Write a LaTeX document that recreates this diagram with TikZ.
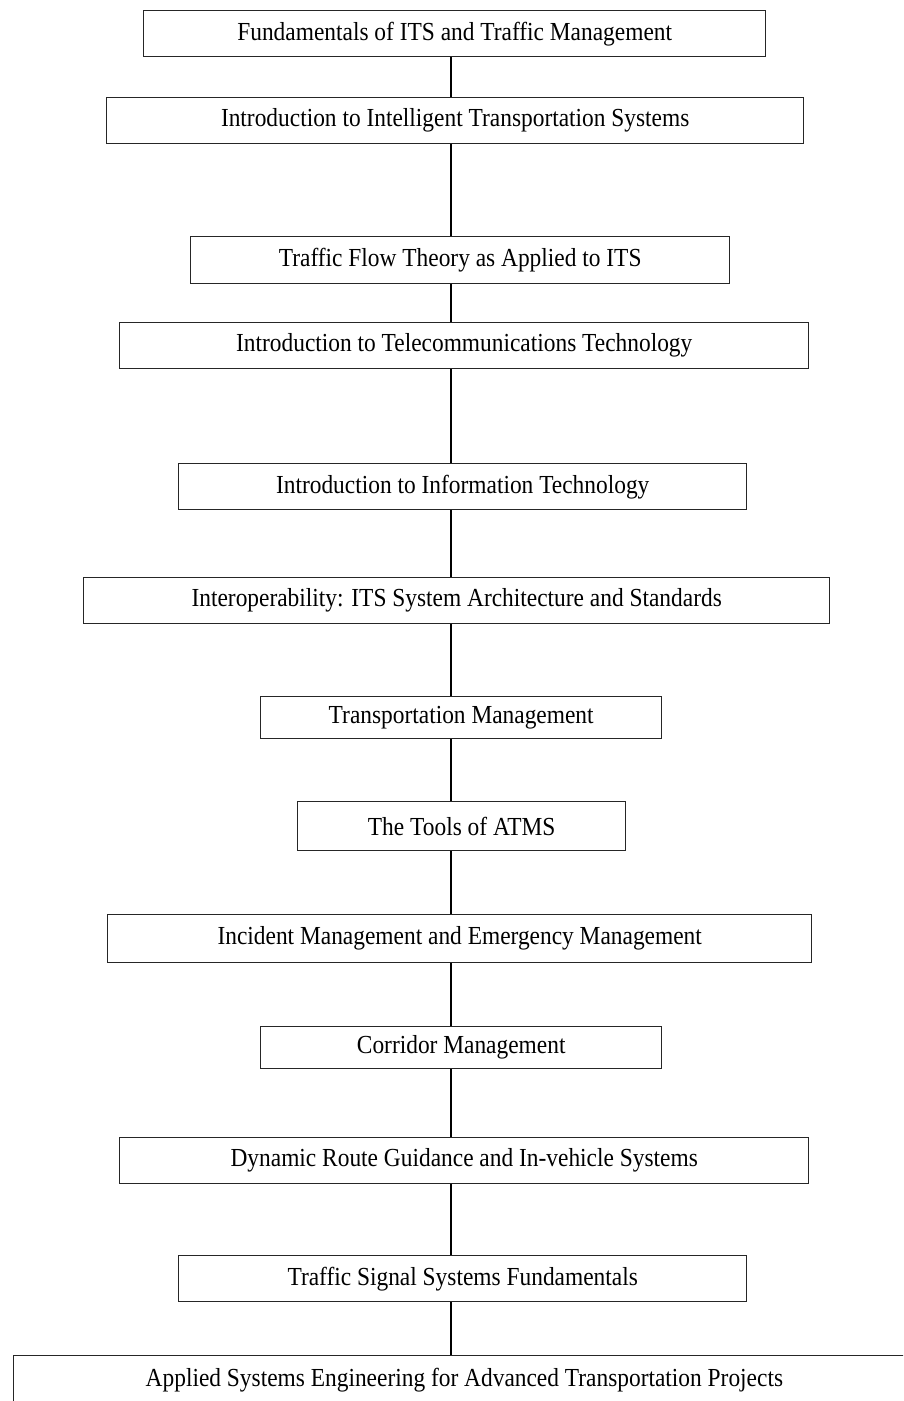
\documentclass[tikz,border=0pt]{standalone}
\usepackage{fontspec}
\setmainfont{Liberation Serif}[FakeStretch=0.9]
\begin{document}
\begin{tikzpicture}[x=1pt,y=-1pt,
  course/.style={draw=black!85,line width=1.4pt,fill=white,inner sep=0pt,
    font=\fontsize{26}{30}\selectfont,anchor=north west},
  link/.style={draw=black,line width=1.2pt}]
\useasboundingbox (0,0) rectangle (903,1401);
\clip (0,0) rectangle (903,1401);
% course boxes: top-left corner, width, height
\newcommand{\coursebox}[6]{%
  \node[course,minimum width=#4pt,minimum height=#5pt] (#1) at (#2,#3) {#6};}
\coursebox{c1}{143}{10}{622}{46}{Fundamentals of ITS and Traffic Management}
\coursebox{c2}{106}{97}{697}{46}{Introduction to Intelligent Transportation Systems}
\coursebox{c3}{190}{236}{539}{47}{Traffic Flow Theory as Applied to ITS}
\coursebox{c4}{119}{322}{689}{46}{Introduction to Telecommunications Technology}
\coursebox{c5}{178}{463}{568}{46}{Introduction to Information Technology}
\coursebox{c6}{83}{577}{746}{46}{Interoperability: ITS System Architecture and Standards}
\coursebox{c7}{260}{696}{401}{42}{Transportation Management}
\coursebox{c8}{297}{801}{328}{49}{The Tools of ATMS}
\coursebox{c9}{107}{914}{704}{48}{Incident Management and Emergency Management}
\coursebox{c10}{260}{1026}{401}{42}{Corridor Management}
\coursebox{c11}{119}{1137}{689}{46}{Dynamic Route Guidance and In-vehicle Systems}
\coursebox{c12}{178}{1255}{568}{46}{Traffic Signal Systems Fundamentals}
\coursebox{c13}{12.7}{1355}{902}{48}{Applied Systems Engineering for Advanced Transportation Projects}
% vertical connectors
\foreach \a/\b in {c1/c2,c2/c3,c3/c4,c4/c5,c5/c6,c6/c7,c7/c8,c8/c9,c9/c10,c10/c11,c11/c12,c12/c13}
  \draw[link] (\a.south -| 451,0) -- (\b.north -| 451,0);
\end{tikzpicture}
\end{document}
